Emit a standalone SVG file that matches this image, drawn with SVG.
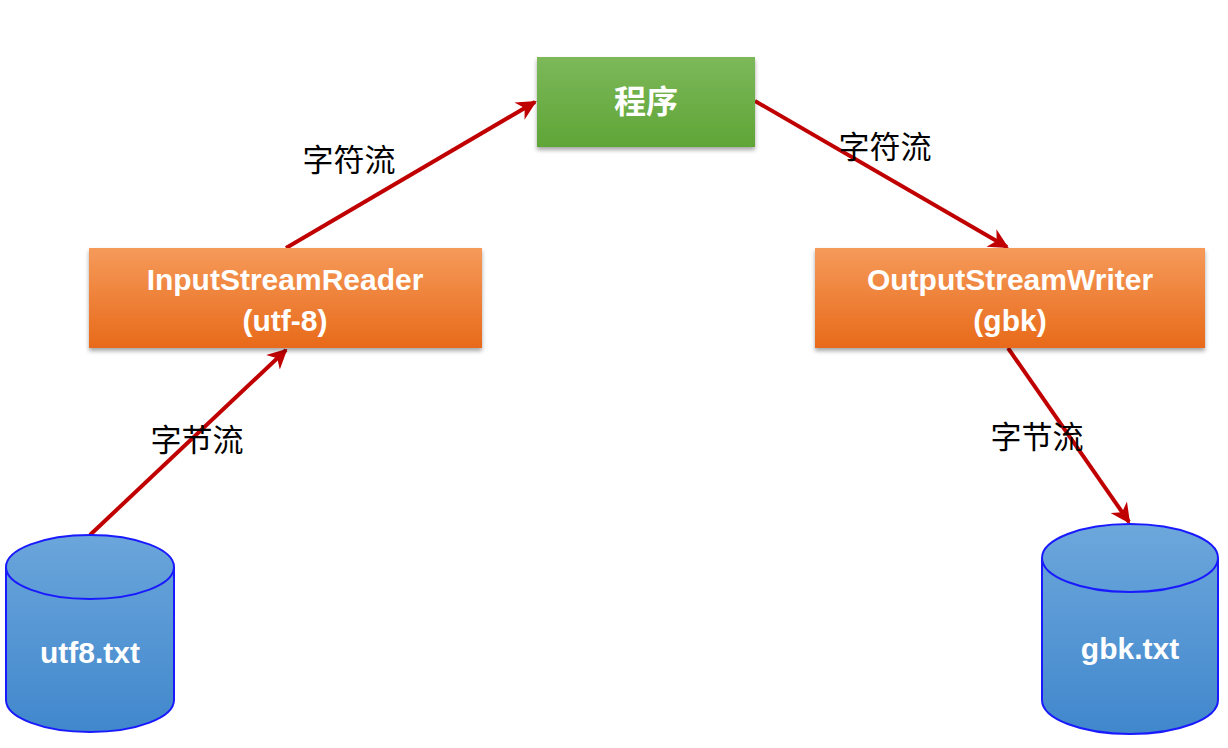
<svg xmlns="http://www.w3.org/2000/svg" width="1228" height="748" viewBox="0 0 1228 748">
<defs>
<linearGradient id="gg" x1="0" y1="0" x2="0" y2="1"><stop offset="0" stop-color="#7cb85a"/><stop offset="1" stop-color="#5fa536"/></linearGradient>
<linearGradient id="og" x1="0" y1="0" x2="0" y2="1"><stop offset="0" stop-color="#f59a5a"/><stop offset="1" stop-color="#e86a1a"/></linearGradient>
<linearGradient id="bg" gradientUnits="userSpaceOnUse" x1="0" y1="520" x2="0" y2="740"><stop offset="0" stop-color="#6ea8dc"/><stop offset="1" stop-color="#3f86cc"/></linearGradient>
<filter id="sh" x="-10%" y="-10%" width="120%" height="130%"><feDropShadow dx="0" dy="3" stdDeviation="2" flood-color="#000" flood-opacity="0.35"/></filter>
<marker id="ah" viewBox="0 0 10 10" refX="9" refY="5" markerWidth="5" markerHeight="5" orient="auto" markerUnits="strokeWidth"><path d="M0,0 L10,5 L0,10 L3,5 z" fill="#c00000"/></marker>
</defs>
<style>
.lbl{font-family:"Liberation Sans","Noto Sans CJK SC",sans-serif;font-weight:bold;fill:#fff;text-anchor:middle}
.el{font-family:"Noto Sans CJK SC",sans-serif;font-size:31px;fill:#000;text-anchor:middle}
.cn{stroke:#c00000;stroke-width:4;fill:none;marker-end:url(#ah)}
.cyl{fill:url(#bg);stroke:#1a1aff;stroke-width:2}
</style>
<rect width="1228" height="748" fill="#fff"/>
<g id="connectors">
<line class="cn" x1="90" y1="535" x2="286" y2="350"/>
<line class="cn" x1="286" y1="248" x2="535" y2="102"/>
<line class="cn" x1="755" y1="101" x2="1007" y2="247"/>
<line class="cn" x1="1008" y1="348" x2="1129" y2="522"/>
<text class="el" x="349" y="171">字符流</text>
<text class="el" x="885" y="158">字符流</text>
<text class="el" x="197" y="451">字节流</text>
<text class="el" x="1037" y="448">字节流</text>
</g>
<g id="program"><rect x="537" y="57" width="218" height="90" fill="url(#gg)" filter="url(#sh)"/><text class="lbl" x="646" y="113" font-size="32" style="font-family:'Noto Sans CJK SC',sans-serif">程序</text></g>
<g id="reader"><rect x="89" y="248" width="393" height="100" fill="url(#og)" filter="url(#sh)"/><text class="lbl" x="285" y="290" font-size="30">InputStreamReader</text><text class="lbl" x="285" y="331" font-size="30">(utf-8)</text></g>
<g id="writer"><rect x="815" y="248" width="390" height="100" fill="url(#og)" filter="url(#sh)"/><text class="lbl" x="1010" y="290" font-size="30">OutputStreamWriter</text><text class="lbl" x="1010" y="331" font-size="30">(gbk)</text></g>
<g id="utf8"><path class="cyl" d="M6,567 L6,700 A84,32 0 0 0 174,700 L174,567"/><ellipse class="cyl" cx="90" cy="567" rx="84" ry="32"/><text class="lbl" x="90" y="663" font-size="30">utf8.txt</text></g>
<g id="gbk"><path class="cyl" d="M1042,558 L1042,700 A88,34 0 0 0 1218,700 L1218,558"/><ellipse class="cyl" cx="1130" cy="558" rx="88" ry="34"/><text class="lbl" x="1130" y="659" font-size="30">gbk.txt</text></g>
</svg>
